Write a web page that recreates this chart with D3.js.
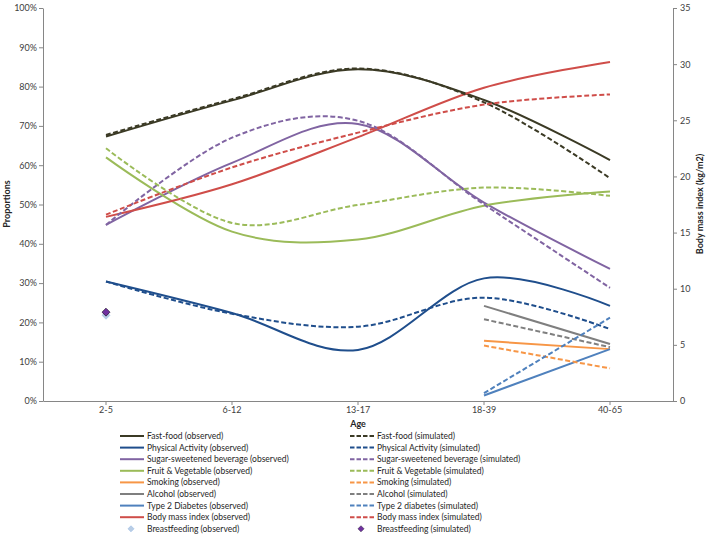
<!DOCTYPE html>
<html>
<head>
<meta charset="utf-8">
<script src="https://cdn.jsdelivr.net/npm/d3@7"></script>
<style>
  body { margin: 0; background: #fff; }
  svg { font-family: Lato, "Liberation Sans", sans-serif; }
</style>
</head>
<body>
<svg width="708" height="535"></svg>
<script>
// age groups on the x axis
const ageGroups = ['2-5', '6-12', '13-17', '18-39', '40-65']
const leftTicks = [0, 10, 20, 30, 40, 50, 60, 70, 80, 90, 100]
const rightTicks = [0, 5, 10, 15, 20, 25, 30, 35]

// proportions (%)
const fastFoodObs = [67.3, 76.5, 84.4, 76.6, 61.3]
const fastFoodSim = [67.7, 76.8, 84.6, 76.0, 56.7]
const physActObs = [30.4, 22.4, 13.0, 31.2, 24.2]
const physActSim = [30.4, 22.2, 18.9, 26.3, 18.3]
const ssbObs = [44.8, 60.6, 70.5, 50.5, 33.6]
const ssbSim = [44.8, 67.0, 71.3, 50.0, 28.8]
const fruitVegObs = [62.0, 43.1, 41.1, 49.7, 53.3]
const fruitVegSim = [64.3, 45.3, 49.9, 54.3, 52.2]
const smokingObs = [null, null, null, 15.3, 13.2]
const smokingSim = [null, null, null, 14.1, 8.3]
const alcoholObs = [null, null, null, 24.2, 14.5]
const alcoholSim = [null, null, null, 20.8, 13.7]
const diabetesObs = [null, null, null, 1.4, 13.2]
const diabetesSim = [null, null, null, 2.0, 21.2]
// body mass index (kg/m2), right axis
const bmiObs = [16.4, 19.3, 23.5, 27.9, 30.2]
const bmiSim = [16.6, 20.8, 23.9, 26.4, 27.3]
// breastfeeding (%), points only
const breastObs = [21.8, null, null, null, null]
const breastSim = [22.6, null, null, null, null]

const series = [
  {name: 'Fast-food (observed)', values: fastFoodObs, color: '#3b3a25', dash: null, axis: 'l'},
  {name: 'Physical Activity (observed)', values: physActObs, color: '#1f4e8c', dash: null, axis: 'l'},
  {name: 'Sugar-sweetened beverage (observed)', values: ssbObs, color: '#8064a2', dash: null, axis: 'l'},
  {name: 'Fruit & Vegetable (observed)', values: fruitVegObs, color: '#9bbb59', dash: null, axis: 'l'},
  {name: 'Smoking (observed)', values: smokingObs, color: '#f79646', dash: null, axis: 'l'},
  {name: 'Alcohol (observed)', values: alcoholObs, color: '#7f7f7f', dash: null, axis: 'l'},
  {name: 'Type 2 Diabetes (observed)', values: diabetesObs, color: '#4f81bd', dash: null, axis: 'l'},
  {name: 'Body mass index (observed)', values: bmiObs, color: '#cf4d49', dash: null, axis: 'r'},
  {name: 'Fast-food (simulated)', values: fastFoodSim, color: '#3b3a25', dash: '5,2.5', axis: 'l'},
  {name: 'Physical Activity (simulated)', values: physActSim, color: '#1f4e8c', dash: '5,2.5', axis: 'l'},
  {name: 'Sugar-sweetened beverage (simulated)', values: ssbSim, color: '#8064a2', dash: '5,2.5', axis: 'l'},
  {name: 'Fruit & Vegetable (simulated)', values: fruitVegSim, color: '#9bbb59', dash: '5,2.5', axis: 'l'},
  {name: 'Smoking (simulated)', values: smokingSim, color: '#f79646', dash: '5,2.5', axis: 'l'},
  {name: 'Alcohol (simulated)', values: alcoholSim, color: '#7f7f7f', dash: '5,2.5', axis: 'l'},
  {name: 'Type 2 diabetes (simulated)', values: diabetesSim, color: '#4f81bd', dash: '5,2.5', axis: 'l'},
  {name: 'Body mass index (simulated)', values: bmiSim, color: '#cf4d49', dash: '5,2.5', axis: 'r'}
]

const svg = d3.select('svg')
const plotLeft = 43, plotRight = 673, plotTop = 8, plotBottom = 401

const xb = d3.scaleBand().domain(ageGroups).range([plotLeft, plotRight])
const yl = d3.scaleLinear().domain([0, 100]).range([plotBottom, plotTop])
const yr = d3.scaleLinear().domain([0, 35]).range([plotBottom, plotTop])
const xc = function(d) { return xb(d) + xb.bandwidth() / 2 }

// axes
const axisColor = '#868686'
const gl = svg.append('g').attr('transform', 'translate(' + plotLeft + ',0)')
  .call(d3.axisLeft(yl).tickValues(leftTicks).tickSize(4).tickSizeOuter(0).tickFormat(function(d) { return d + '%' }))
const gr = svg.append('g').attr('transform', 'translate(' + plotRight + ',0)')
  .call(d3.axisRight(yr).tickValues(rightTicks).tickSize(4).tickSizeOuter(0))
const gb = svg.append('g').attr('transform', 'translate(0,' + plotBottom + ')')
  .call(d3.axisBottom(xb).tickSize(4).tickSizeOuter(0))
;[gl, gr, gb].forEach(function(g) {
  g.select('.domain').attr('stroke', axisColor)
  g.selectAll('.tick line').attr('stroke', axisColor)
  g.selectAll('.tick text').attr('fill', '#404040').attr('font-size', 9).attr('font-family', 'Lato, sans-serif')
})
gl.selectAll('.tick text').attr('x', -6)
gr.selectAll('.tick text').attr('x', 7)
gb.selectAll('.tick text').attr('y', 6)

// axis titles
svg.append('text').attr('transform', 'translate(10,204) rotate(-90)')
  .attr('text-anchor', 'middle').attr('font-size', 9).attr('font-weight', 'bold').attr('fill', '#262626')
  .text('Proportions')
svg.append('text').attr('transform', 'translate(703,204) rotate(-90)')
  .attr('text-anchor', 'middle').attr('font-size', 9).attr('font-weight', 'bold').attr('fill', '#262626')
  .text('Body mass index (kg/m2)')
svg.append('text').attr('x', 358).attr('y', 427)
  .attr('text-anchor', 'middle').attr('font-size', 9).attr('font-weight', 'bold').attr('fill', '#262626')
  .text('Age')

// lines
const plot = svg.append('g')
series.forEach(function(s) {
  const ys = s.axis === 'r' ? yr : yl
  const line = d3.line()
    .defined(function(d) { return d != null })
    .x(function(d, i) { return xc(ageGroups[i]) })
    .y(function(d) { return ys(d) })
    .curve(d3.curveCardinal.tension(0))
  plot.append('path')
    .attr('d', line(s.values))
    .attr('fill', 'none')
    .attr('stroke', s.color)
    .attr('stroke-width', 2)
    .attr('stroke-dasharray', s.dash)
})

// breastfeeding points
const diamond = d3.symbol().type(d3.symbolDiamond2).size(40)
plot.selectAll('path.bfo').data(breastObs.map(function(v, i) { return {v: v, i: i} }).filter(function(d) { return d.v != null }))
  .enter().append('path').attr('class', 'bfo')
  .attr('d', diamond)
  .attr('transform', function(d) { return 'translate(' + xc(ageGroups[d.i]) + ',' + yl(d.v) + ')' })
  .attr('fill', '#b9cde5').attr('stroke', '#8eb4e3').attr('stroke-width', 0.5)
plot.selectAll('path.bfs').data(breastSim.map(function(v, i) { return {v: v, i: i} }).filter(function(d) { return d.v != null }))
  .enter().append('path').attr('class', 'bfs')
  .attr('d', diamond)
  .attr('transform', function(d) { return 'translate(' + xc(ageGroups[d.i]) + ',' + yl(d.v) + ')' })
  .attr('fill', '#7030a0').attr('stroke', '#2a1a3a').attr('stroke-width', 0.8)

// legend
const legendRow = 11.6
const legendTop = 436
const bfLegend = [
  {name: 'Breastfeeding (observed)', marker: true, fill: '#b9cde5', stroke: '#8eb4e3'},
  {name: 'Breastfeeding (simulated)', marker: true, fill: '#7030a0', stroke: '#2a1a3a'}
]
// observed in left column, simulated in right
const obsItems = series.slice(0, 8).concat([bfLegend[0]])
const simItems = series.slice(8).concat([bfLegend[1]])
function drawColumn(items, x0) {
  const g = svg.append('g')
  items.forEach(function(d, i) {
    const y = legendTop + i * legendRow
    if (d.marker) {
      g.append('path').attr('d', d3.symbol().type(d3.symbolDiamond2).size(24))
        .attr('transform', 'translate(' + (x0 + 11) + ',' + y + ')')
        .attr('fill', d.fill).attr('stroke', d.stroke).attr('stroke-width', 0.5)
    } else {
      g.append('line').attr('x1', x0).attr('x2', x0 + 24).attr('y1', y).attr('y2', y)
        .attr('stroke', d.color).attr('stroke-width', 2).attr('stroke-dasharray', d.dash ? '4.5,2' : null)
    }
    g.append('text').attr('x', x0 + 27).attr('y', y + 3)
      .attr('font-size', 8.5).attr('fill', '#262626').text(d.name)
  })
}
drawColumn(obsItems, 120)
drawColumn(simItems, 350)
</script>
</body>
</html>
